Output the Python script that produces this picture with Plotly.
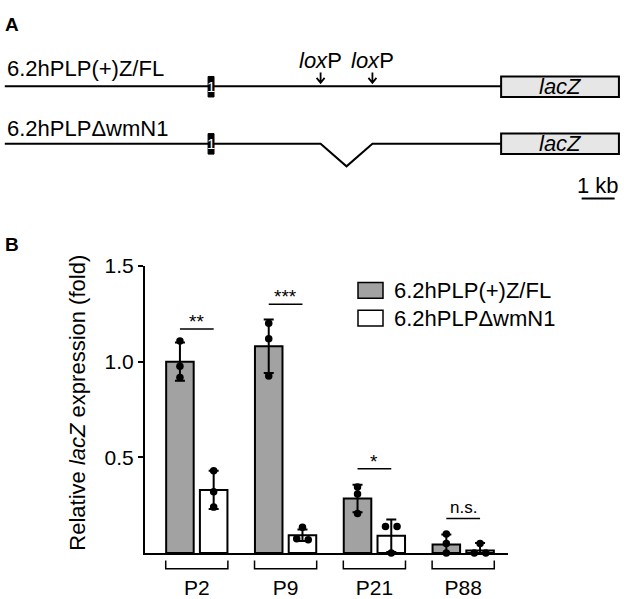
import plotly.graph_objects as go

# ---- panel B data (relative lacZ expression, fold) ----
groups = ["P2", "P9", "P21", "P88"]
series = ["6.2hPLP(+)Z/FL", "6.2hPLPΔwmN1"]
fl_mean = [1.00, 1.08, 0.285, 0.045]
fl_sd = [0.10, 0.14, 0.072, 0.052]
fl_pts = [[1.108, 0.976, 0.917], [1.20, 1.12, 0.925], [0.345, 0.308, 0.207], [0.10, 0.05, 0.0]]
wm_mean = [0.33, 0.093, 0.09, 0.013]
wm_sd = [0.10, 0.03, 0.085, 0.04]
wm_pts = [[0.43, 0.32, 0.24], [0.135, 0.075, 0.07], [0.139, 0.139, 0.0], [0.05, 0.0, 0.0]]
sig_text = ["**", "***", "*", "n.s."]
sig_y = [1.17, 1.30, 0.44, 0.18]

# ---- panel A construct map (kb from left end of the line) ----
exon1_kb = [6.16, 6.34]
loxp_kb = [9.57, 11.14]
lacz_kb = [15.04, 18.61]
scalebar_kb = [17.48, 18.48]

W, H = 624, 599
FONT = "Liberation Sans, Arial, sans-serif"
GREY = "#a2a2a2"


def px(x):
    return x / W


def py(y):
    return 1 - y / H


def dodge(vals, step=0.065, tol=0.012):
    # spread dots that sit on the same value
    offs = [0.0] * len(vals)
    used = set()
    for i, v in enumerate(vals):
        if i in used:
            continue
        same = [j for j, w in enumerate(vals) if abs(w - v) < tol]
        if len(same) > 1:
            n = len(same)
            for k, j in enumerate(same):
                offs[j] = (k - (n - 1) / 2) * 2 * step / max(n - 1, 1)
                used.add(j)
    return offs


def txt(text, x, y, xref, yref, size=22, xa="center", ya="middle", color="black", **kw):
    fig.add_annotation(x=x, y=y, xref=xref, yref=yref, text=text, showarrow=False,
                       xanchor=xa, yanchor=ya, font=dict(size=size, color=color, family=FONT), **kw)


OFF, BW = 0.19, 0.31
gidx = list(range(len(groups)))

fig = go.Figure()

for name, mean, sd, pts, col, off in [
    (series[0], fl_mean, fl_sd, fl_pts, GREY, -OFF),
    (series[1], wm_mean, wm_sd, wm_pts, "white", OFF),
]:
    xs = [i + off for i in gidx]
    fig.add_trace(go.Bar(
        x=xs, y=mean, width=BW, name=name, showlegend=False,
        marker=dict(color=col, line=dict(color="black", width=2)),
        error_y=dict(type="data", array=sd, visible=True, color="black", thickness=2, width=5),
    ))
    dx, dy = [], []
    for i, vals in zip(gidx, pts):
        for o, v in zip(dodge(vals), vals):
            dx.append(i + off + o)
            dy.append(v)
    fig.add_trace(go.Scatter(x=dx, y=dy, mode="markers", showlegend=False, cliponaxis=False,
                             marker=dict(color="black", size=7.5)))

# significance bars
sx, sy = [], []
for i, y in zip(gidx, sig_y):
    sx += [i - OFF, i + OFF, None]
    sy += [y, y, None]
fig.add_trace(go.Scatter(x=sx, y=sy, mode="lines", showlegend=False,
                         line=dict(color="black", width=1.5)))
for i, y, t in zip(gidx, sig_y, sig_text):
    ns = t == "n.s."
    txt(t, i, y, "x", "y", size=17 if ns else 19, ya="bottom", yshift=(0 if ns else -5))

# brackets under each group
for i in gidx:
    fig.add_shape(type="path", xref="x", yref="paper",
                  path=f"M {i-0.35},{py(561.5)} L {i-0.35},{py(570)} L {i+0.35},{py(570)} L {i+0.35},{py(561.5)}",
                  line=dict(color="black", width=1.5))

# ---- panel A schematic ----
mid = sum(loxp_kb) / 2
fig.add_trace(go.Scatter(x=[0, lacz_kb[0]], y=[76, 76], xaxis="x2", yaxis="y2", mode="lines",
                         showlegend=False, line=dict(color="black", width=2)))
fig.add_trace(go.Scatter(x=[0, loxp_kb[0], mid, loxp_kb[1], lacz_kb[0]], y=[135, 135, 158, 135, 135],
                         xaxis="x2", yaxis="y2", mode="lines", showlegend=False,
                         line=dict(color="black", width=2)))
for y0, y1, yc in [(66, 87, 76.5), (124.5, 145.5, 135)]:
    fig.add_shape(type="rect", xref="x2", yref="y2", x0=exon1_kb[0], x1=exon1_kb[1], y0=y0, y1=y1,
                  fillcolor="black", line=dict(color="black", width=1))
    txt("1", sum(exon1_kb) / 2, yc, "x2", "y2", size=15, color="white")
    fig.add_shape(type="rect", xref="x2", yref="y2", x0=lacz_kb[0], x1=lacz_kb[1], y0=y0, y1=y1,
                  fillcolor="#e6e6e6", line=dict(color="black", width=2))
    txt("<i>lacZ</i>", sum(lacz_kb) / 2, yc, "x2", "y2")

d = 4 / 33
for xl in loxp_kb:
    fig.add_shape(type="path", xref="x2", yref="y2",
                  path=f"M {xl},62 L {xl},72.5 M {xl-d},67.5 L {xl},72.5 L {xl+d},67.5",
                  line=dict(color="black", width=1.8))
    txt("<i>lox</i>P", xl, 50, "x2", "y2")

for t, y in zip(series, [57.5, 119]):
    txt(t, 0, y, "x2", "y2", xa="left")

fig.add_shape(type="line", xref="x2", yref="y2", x0=scalebar_kb[0], x1=scalebar_kb[1], y0=191, y1=191,
              line=dict(color="black", width=2))
txt("1 kb", sum(scalebar_kb) / 2, 178, "x2", "y2")

# panel letters
for t, x, y in [("A", 3, 12.5), ("B", 3, 238.5)]:
    txt(f"<b>{t}</b>", px(x), py(y), "paper", "paper", size=19, xa="left")

# y title
txt("Relative <i>lacZ</i> expression (fold)", px(78), py(400), "paper", "paper", textangle=-90)

# legend
for (t, col), y in zip(zip(series, [GREY, "white"]), [285, 313.5]):
    fig.add_shape(type="rect", xref="paper", yref="paper", x0=px(358), x1=px(383),
                  y0=py(y - 8), y1=py(y + 8), fillcolor=col, line=dict(color="black", width=1.5))
    txt(t, px(392), py(y), "paper", "paper", xa="left")

c0, step = 196.8, 88.8
fig.update_layout(
    width=W, height=H, margin=dict(l=0, r=0, t=0, b=0),
    paper_bgcolor="white", plot_bgcolor="rgba(0,0,0,0)",
    font=dict(family=FONT, color="black"),
    barmode="overlay", showlegend=False,
    xaxis=dict(domain=[px(145), px(508)], range=[(145 - c0) / step, (508 - c0) / step],
               showline=True, linecolor="black", linewidth=2, showgrid=False, zeroline=False,
               tickvals=gidx, ticktext=groups, ticks="outside", ticklen=15,
               tickcolor="rgba(0,0,0,0)", tickfont=dict(size=21)),
    yaxis=dict(domain=[py(554), py(260)], range=[0, 1.5], showline=True, linecolor="black",
               linewidth=2, showgrid=False, zeroline=False, tickvals=[0.5, 1.0, 1.5],
               ticktext=["0.5", "1.0", "1.5"], ticks="outside", ticklen=5, tickwidth=2,
               tickcolor="black", tickfont=dict(size=21)),
    xaxis2=dict(domain=[0, 1], range=[-4.8 / 33, (W - 4.8) / 33], visible=False, anchor="y2"),
    yaxis2=dict(domain=[0, 1], range=[H, 0], visible=False, anchor="x2"),
)

fig.write_html("out.html", config={"displayModeBar": False},
               post_script="document.body.style.margin='0px';")
